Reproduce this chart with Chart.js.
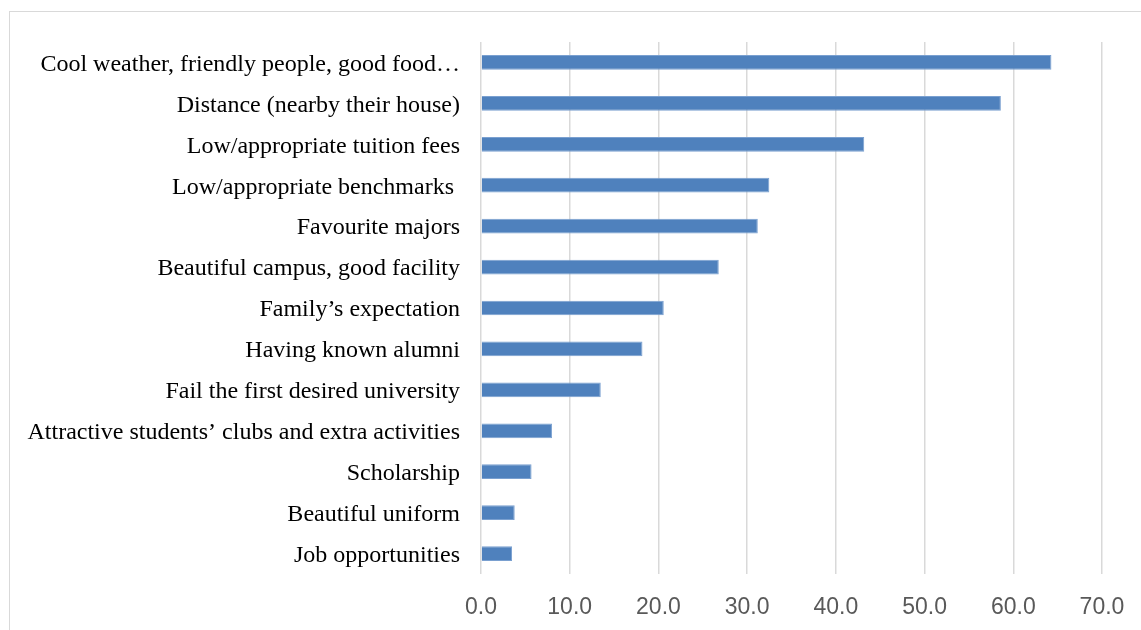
<!DOCTYPE html>
<html>
<head>
<meta charset="utf-8">
<script src="https://cdn.jsdelivr.net/npm/chart.js@4/dist/chart.umd.min.js"></script>
<style>
  html, body { margin: 0; padding: 0; background: #ffffff; overflow: hidden; }
  #wrap { position: relative; width: 1141px; height: 630px; }
  #frame {
    position: absolute; left: 9px; top: 11px; width: 1200px; height: 700px;
    border: 1.5px solid #d9d9d9; box-sizing: border-box;
  }
  canvas { position: absolute; left: 0; top: 0; }
</style>
</head>
<body>
<div id="wrap">
  <div id="frame"></div>
  <canvas id="chart" width="1141" height="630"></canvas>
</div>
<script>
// Reasons for choosing the university (%)
const categories = [
  "Cool weather, friendly people, good food\u2026",
  "Distance (nearby their house)",
  "Low/appropriate tuition fees",
  "Low/appropriate benchmarks ",
  "Favourite majors",
  "Beautiful campus, good facility",
  "Family\u2019s expectation",
  "Having known alumni",
  "Fail the first desired university",
  "Attractive students\u2019 clubs and extra activities",
  "Scholarship",
  "Beautiful uniform",
  "Job opportunities"
];
const percentages = [64.3, 58.6, 43.2, 32.5, 31.2, 26.8, 20.6, 18.2, 13.5, 8.0, 5.7, 3.8, 3.5];
const axisMin = 0;
const axisMax = 70;
const axisStep = 10;

new Chart(document.getElementById('chart'), {
  type: 'bar',
  data: {
    labels: categories,
    datasets: [{
      data: percentages,
      backgroundColor: '#4f81bd',
      borderColor: '#7aa0d0',
      borderWidth: 1,
      barPercentage: 0.36,
      categoryPercentage: 1.0
    }]
  },
  options: {
    indexAxis: 'y',
    responsive: false,
    animation: false,
    layout: { padding: { top: 42, right: 39, bottom: 0, left: 0 } },
    plugins: { legend: { display: false }, tooltip: { enabled: false } },
    scales: {
      x: {
        min: axisMin,
        max: axisMax,
        afterFit: (s) => { s.height = 56; s.paddingLeft = 0; s.paddingRight = 0; },
        border: { display: false },
        grid: { color: '#d9d9d9', lineWidth: 1.5, drawTicks: false },
        ticks: {
          stepSize: axisStep,
          padding: 20,
          color: '#595959',
          font: { family: "'Liberation Sans Narrow', 'Liberation Sans', sans-serif", size: 23 },
          callback: (v) => Number(v).toFixed(1)
        }
      },
      y: {
        afterFit: (s) => { s.width = 481; s.paddingTop = 0; s.paddingBottom = 0; },
        border: { display: false },
        grid: { display: false, drawTicks: false },
        ticks: {
          padding: 21,
          labelOffset: 2,
          color: '#000000',
          autoSkip: false,
          font: { family: "'Liberation Serif', 'Times New Roman', serif", size: 24 }
        }
      }
    }
  }
});
</script>
</body>
</html>
